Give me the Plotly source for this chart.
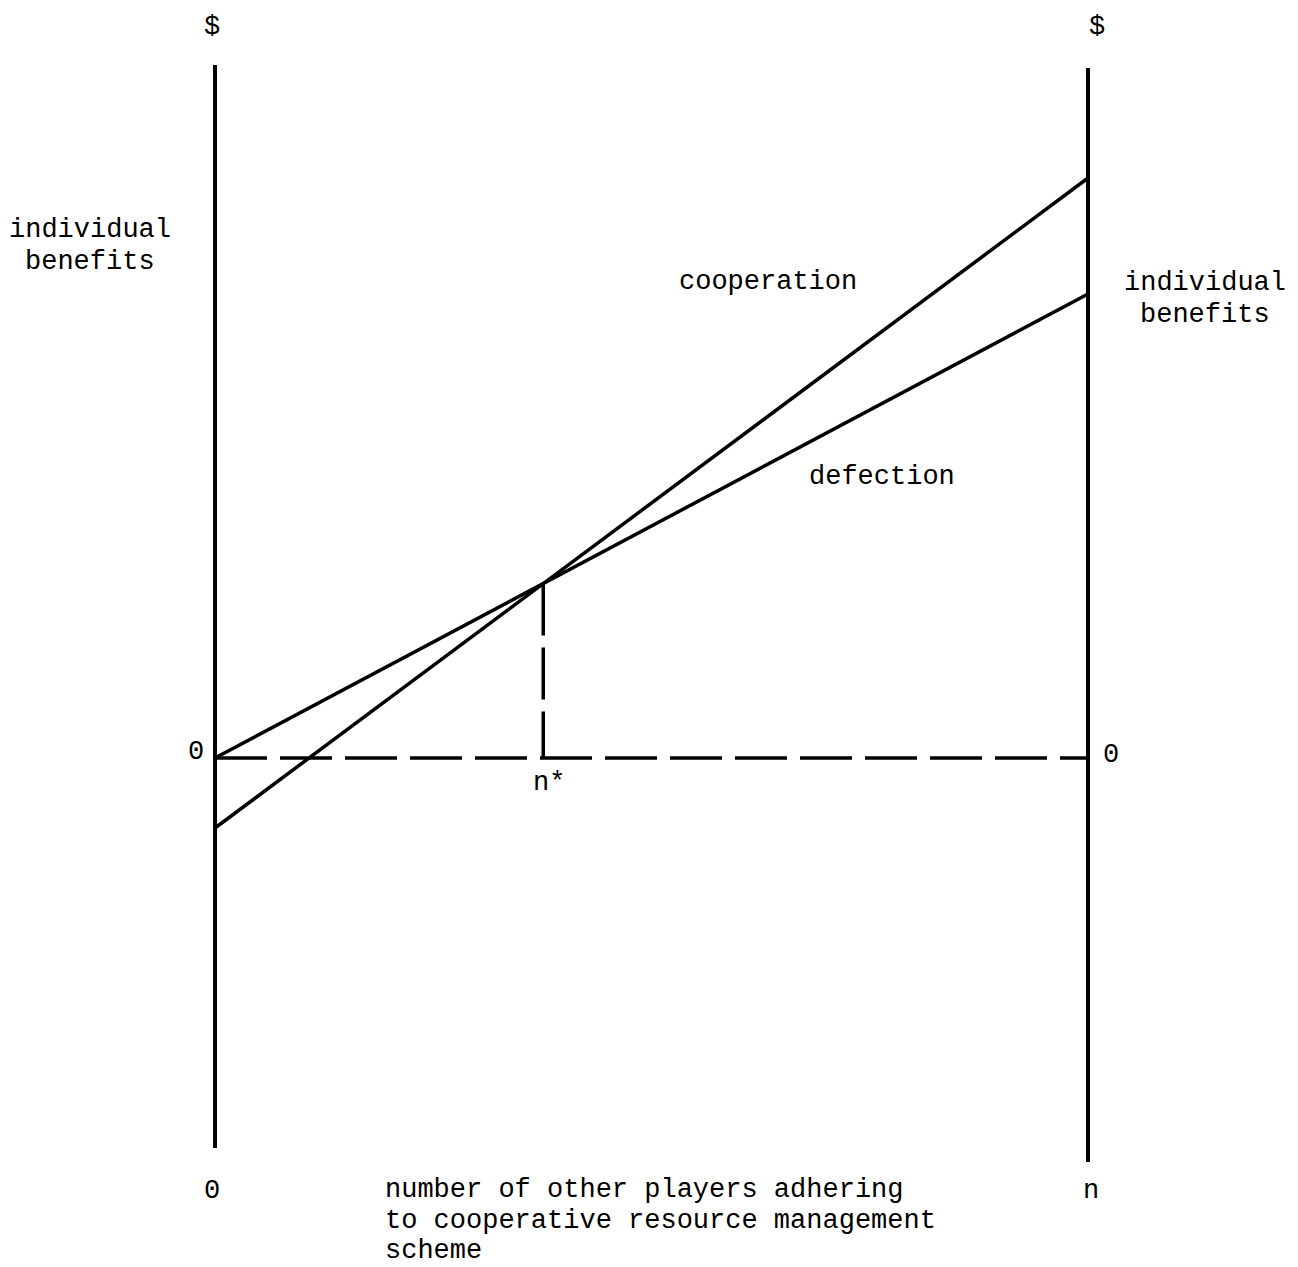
import plotly.graph_objects as go

# ---- data (arbitrary benefit units; x in players, n = 10) ----
x_ends = [0, 10]                 # 0 and n
cooperation = [-7.0, 58.0]       # individual benefit of cooperating
defection = [0.0, 46.4]          # individual benefit of defecting
n_star = 3.76                    # crossing point
n_star_benefit = 17.45
zero_level = [0, 0]
left_axis_y = [-39.0, 69.3]
right_axis_y = [-40.4, 69.0]

FONT = dict(family="Liberation Mono, Courier New, monospace", size=27, color="black")
INK = "black"

fig = go.Figure()

# vertical axes
fig.add_trace(go.Scatter(x=[x_ends[0]] * 2, y=left_axis_y, mode="lines",
                         line=dict(color=INK, width=4), hoverinfo="skip"))
fig.add_trace(go.Scatter(x=[x_ends[1]] * 2, y=right_axis_y, mode="lines",
                         line=dict(color=INK, width=4), hoverinfo="skip"))
# zero dashed line
fig.add_trace(go.Scatter(x=x_ends, y=zero_level, mode="lines",
                         line=dict(color=INK, width=3.5, dash="52px,13px"), hoverinfo="skip"))
# n* dashed drop line
fig.add_trace(go.Scatter(x=[n_star, n_star], y=[n_star_benefit, 0], mode="lines",
                         line=dict(color=INK, width=3.5, dash="52px,12px"), hoverinfo="skip"))
# cooperation and defection lines
fig.add_trace(go.Scatter(x=x_ends, y=cooperation, mode="lines",
                         line=dict(color=INK, width=3.5), hoverinfo="skip"))
fig.add_trace(go.Scatter(x=x_ends, y=defection, mode="lines",
                         line=dict(color=INK, width=3.5), hoverinfo="skip"))

def label(text, x, y, xanchor="center"):
    fig.add_annotation(x=x, y=y, text=text, showarrow=False, xref="x", yref="y",
                       xanchor=xanchor, yanchor="middle", font=FONT)

label("$", -0.03, 73.1)
label("$", 10.10, 73.1)
label("individual", -1.43, 52.8)
label("benefits", -1.43, 49.6)
label("individual", 11.34, 47.5)
label("benefits", 11.34, 44.3)
label("cooperation", 6.33, 47.6)
label("defection", 7.64, 28.1)
label("0", -0.22, 0.6)
label("0", 10.26, 0.3)
label("n*", 3.83, -2.5)
label("0", -0.03, -43.3)
label("n", 10.03, -43.3)
label("number of other players adhering", 1.92, -43.2, "left")
label("to cooperative resource management", 1.92, -46.3, "left")
label("scheme", 1.92, -49.3, "left")

# page body has an 8px margin: figure is drawn 8px in from the top-left corner
fig.update_layout(
    width=1290, height=1259,
    margin=dict(l=0, r=0, t=0, b=0),
    paper_bgcolor="white", plot_bgcolor="white",
    showlegend=False,
    xaxis=dict(range=[(8 - 215) / 87.3, (1298 - 215) / 87.3], visible=False, fixedrange=True),
    yaxis=dict(range=[-50.9, 75.0], visible=False, fixedrange=True),
)

fig.write_html("out.html")
